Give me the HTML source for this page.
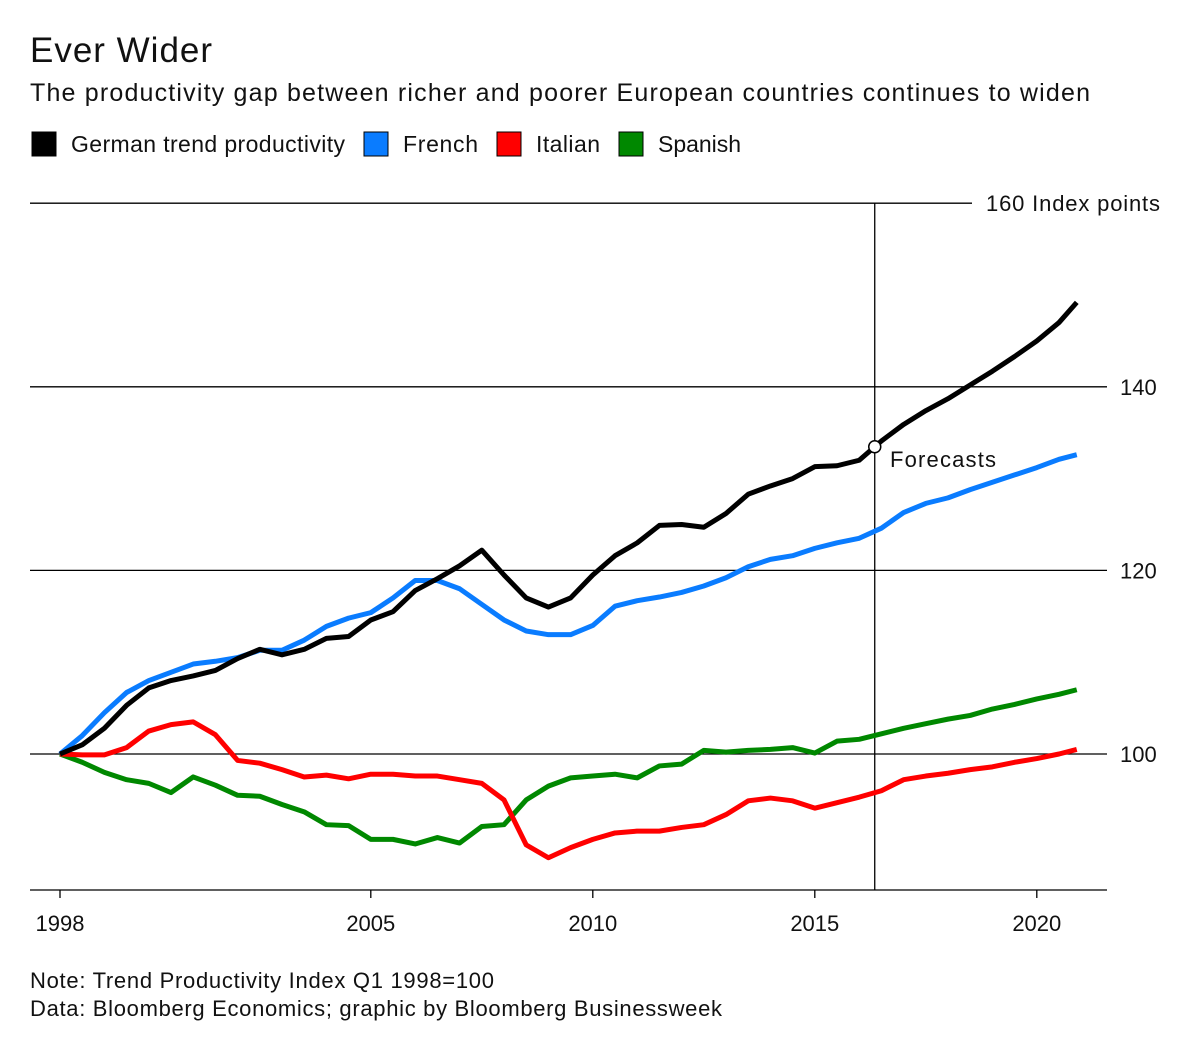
<!DOCTYPE html>
<html><head><meta charset="utf-8"><style>
body{margin:0;background:#fff;font-family:"Liberation Sans",sans-serif;color:#111}
svg text{font-family:"Liberation Sans",sans-serif;fill:#111}
</style></head><body>
<svg width="1200" height="1042" id="c">
<text x="30" y="62" font-size="35" textLength="182">Ever Wider</text>
<text x="30" y="101" font-size="25" textLength="1060">The productivity gap between richer and poorer European countries continues to widen</text>
<g id="legend"></g>
<g id="plot"></g>
<text x="30" y="988" font-size="22" textLength="464">Note: Trend Productivity Index Q1 1998=100</text>
<text x="30" y="1016" font-size="22" textLength="692">Data: Bloomberg Economics; graphic by Bloomberg Businessweek</text>
</svg>
<script>
const years=[];for(let i=0;i<46;i++)years.push(1998+i*0.5);years.push(2020.9);
const german=[100,101,102.8,105.3,107.2,108,108.5,109.1,110.4,111.4,110.8,111.4,112.6,112.8,114.6,115.5,117.8,119.1,120.5,122.2,119.5,117,116,117,119.5,121.6,123,124.9,125,124.7,126.2,128.3,129.2,130,131.3,131.4,132,134.1,135.9,137.4,138.7,140.2,141.7,143.3,145,147,149.2];
const french=[100,102,104.5,106.7,108,108.9,109.8,110.1,110.5,111.3,111.3,112.4,113.9,114.8,115.4,117,118.9,118.9,118,116.3,114.6,113.4,113,113,114,116.1,116.7,117.1,117.6,118.3,119.2,120.4,121.2,121.6,122.4,123,123.5,124.6,126.3,127.3,127.9,128.8,129.6,130.4,131.2,132.1,132.6];
const italian=[100,99.9,99.9,100.7,102.5,103.2,103.5,102.1,99.3,99,98.3,97.5,97.7,97.3,97.8,97.8,97.6,97.6,97.2,96.8,95,90.1,88.7,89.8,90.7,91.4,91.6,91.6,92,92.3,93.4,94.9,95.2,94.9,94.1,94.7,95.3,96,97.2,97.6,97.9,98.3,98.6,99.1,99.5,100,100.5];
const spanish=[100,99.1,98,97.2,96.8,95.8,97.5,96.6,95.5,95.4,94.5,93.7,92.3,92.2,90.7,90.7,90.2,90.9,90.3,92.1,92.3,95,96.5,97.4,97.6,97.8,97.4,98.7,98.9,100.4,100.2,100.4,100.5,100.7,100.1,101.4,101.6,102.2,102.8,103.3,103.8,104.2,104.9,105.4,106,106.5,107];
const seriesNames=["German trend productivity","French","Italian","Spanish"];
const yTicks=[100,120,140,160];
const xTicks=[1998,2005,2010,2015,2020];
const forecastYear=2016.35;
const colors=["#000","#0a7cff","#ff0000","#008800"];
const X=y=>60+(y-1998)*44.4, Y=v=>754-(v-100)*9.18;
const ns="http://www.w3.org/2000/svg";
function mk(t,a,p){const e=document.createElementNS(ns,t);for(const k in a)e.setAttribute(k,a[k]);p.appendChild(e);return e;}
const plot=document.getElementById('plot'),leg=document.getElementById('legend');
const lx=[32,364,497,619];
const lw=[274,75,64,83];
seriesNames.forEach((n,i)=>{
 const r=mk('rect',{x:lx[i],y:132,width:24,height:24,fill:colors[i],stroke:'#000','stroke-width':1},leg);
 
 
 const t=mk('text',{x:lx[i]+39,y:152,'font-size':23,textLength:lw[i]},leg);t.textContent=n;
 
 
});
yTicks.forEach(v=>{
 const top=v===160;
 const l=mk('line',{x1:30,x2:top?972:1107,y1:Y(v),y2:Y(v),stroke:'#000','stroke-width':1.3},plot);
 
 
 const a={x:top?986:1120,y:Y(v)+8,'font-size':22};
 if(top)a.textLength=174;
 const t=mk('text',a,plot);t.textContent=top?v+' Index points':v;
 
 
});
const ax=mk('line',{x1:30,x2:1107,y1:890,y2:890,stroke:'#000','stroke-width':1.3},plot);


xTicks.forEach(y=>{
 const l=mk('line',{x1:X(y),x2:X(y),y1:890,y2:898,stroke:'#000','stroke-width':1.3},plot);
 
 
 const t=mk('text',{x:X(y),y:931,'font-size':22,'text-anchor':'middle'},plot);t.textContent=y;
 
 
});
const vl=mk('line',{x1:X(forecastYear),x2:X(forecastYear),y1:203,y2:890,stroke:'#000','stroke-width':1.3},plot);


[german,french,italian,spanish].slice().reverse().forEach((s,ri)=>{
 const i=3-ri;
 const p=mk('polyline',{points:s.map((v,k)=>X(years[k])+','+Y(v)).join(' '),fill:'none',stroke:colors[i],'stroke-width':5,'stroke-linejoin':'round'},plot);
 
 
});
let k=years.findIndex(y=>y>forecastYear);
const gv=german[k-1]+(german[k]-german[k-1])*(forecastYear-years[k-1])/(years[k]-years[k-1]);
const c=mk('circle',{cx:X(forecastYear),cy:Y(gv),r:6,fill:'#fff',stroke:'#000','stroke-width':1.5},plot);


const ft=mk('text',{x:890,y:467,'font-size':22,textLength:106},plot);ft.textContent='Forecasts';


</script>
</body></html>
